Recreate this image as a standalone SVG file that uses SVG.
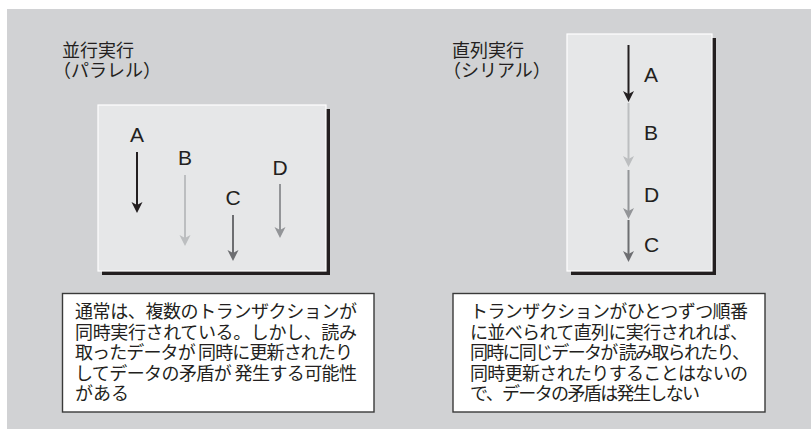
<svg xmlns="http://www.w3.org/2000/svg" width="811" height="429" viewBox="0 0 811 429">
<style>
.title{font-family:"Noto Sans CJK JP","Noto Sans",sans-serif;font-size:18px;font-weight:400;fill:#231f20}
.lbl{font-family:"Liberation Sans",Arial,sans-serif;font-size:21px;fill:#231f20}
.note{font-family:"Noto Sans CJK JP","Noto Sans",sans-serif;font-size:18px;font-weight:400;fill:#231f20}
.panel{fill:#e6e7e8;stroke:#ffffff;stroke-width:1.2}
.shadow{fill:#231f20}
.notebox{fill:#ffffff;stroke:#3a3a3a;stroke-width:1.4}
.arr{stroke-width:2;fill:none}
</style>
<defs>
<marker id="hA" markerUnits="userSpaceOnUse" markerWidth="12" markerHeight="12" viewBox="0 0 12 11" refX="5" refY="5.5" orient="auto"><path d="M0,0 L11,5.5 L0,11 L3,5.5 z" fill="#231f20"/></marker>
<marker id="hB" markerUnits="userSpaceOnUse" markerWidth="12" markerHeight="12" viewBox="0 0 12 11" refX="5" refY="5.5" orient="auto"><path d="M0,0 L11,5.5 L0,11 L3,5.5 z" fill="#bcbec0"/></marker>
<marker id="hC" markerUnits="userSpaceOnUse" markerWidth="12" markerHeight="12" viewBox="0 0 12 11" refX="5" refY="5.5" orient="auto"><path d="M0,0 L11,5.5 L0,11 L3,5.5 z" fill="#6d6e71"/></marker>
<marker id="hD" markerUnits="userSpaceOnUse" markerWidth="12" markerHeight="12" viewBox="0 0 12 11" refX="5" refY="5.5" orient="auto"><path d="M0,0 L11,5.5 L0,11 L3,5.5 z" fill="#939598"/></marker>
</defs>
<rect x="7" y="9" width="804" height="420" fill="#d1d2d4"/>

<g id="parallel">
<text class="title" x="62" y="57">並行実行</text>
<text class="title" x="53" y="77">（パラレル）</text>
<rect class="shadow" x="102" y="109" width="228" height="166"/>
<rect class="panel" x="98" y="105" width="228" height="166"/>
<text class="lbl" x="137" y="142" text-anchor="middle">A</text>
<text class="lbl" x="185" y="165" text-anchor="middle">B</text>
<text class="lbl" x="233" y="205" text-anchor="middle">C</text>
<text class="lbl" x="280" y="175" text-anchor="middle">D</text>
</g>

<g id="serial">
<text class="title" x="452" y="57">直列実行</text>
<text class="title" x="443" y="77">（シリアル）</text>
<rect class="shadow" x="571" y="38" width="145" height="237"/>
<rect class="panel" x="567" y="34" width="145" height="237"/>
<text class="lbl" x="644" y="82">A</text>
<text class="lbl" x="644" y="139.5">B</text>
<text class="lbl" x="644" y="201.5">D</text>
<text class="lbl" x="644" y="252">C</text>
</g>

<g id="connectors">
<line class="arr" x1="137" y1="152" x2="137" y2="207" stroke="#231f20" marker-end="url(#hA)"/>
<line class="arr" x1="185" y1="175" x2="185" y2="240" stroke="#bcbec0" marker-end="url(#hB)"/>
<line class="arr" x1="233" y1="215" x2="233" y2="255" stroke="#6d6e71" marker-end="url(#hC)"/>
<line class="arr" x1="280" y1="184" x2="280" y2="232" stroke="#939598" marker-end="url(#hD)"/>
<line class="arr" x1="628.5" y1="45" x2="628.5" y2="96" stroke="#231f20" marker-end="url(#hA)"/>
<line class="arr" x1="628.5" y1="103" x2="628.5" y2="161" stroke="#bcbec0" marker-end="url(#hB)"/>
<line class="arr" x1="628.5" y1="170" x2="628.5" y2="213" stroke="#939598" marker-end="url(#hD)"/>
<line class="arr" x1="628.5" y1="220" x2="628.5" y2="256" stroke="#6d6e71" marker-end="url(#hC)"/>
</g>

<g id="note-parallel">
<rect class="notebox" x="62.5" y="293.5" width="311.5" height="118.5"/>
<text class="note" x="75" y="318" textLength="282" lengthAdjust="spacing">通常は、複数のトランザクションが</text>
<text class="note" x="75" y="338.5" textLength="282" lengthAdjust="spacing">同時実行されている。しかし、読み</text>
<text class="note" x="75" y="359" textLength="278" lengthAdjust="spacing">取ったデータが 同時に更新されたり</text>
<text class="note" x="75" y="379.5" textLength="282" lengthAdjust="spacing">してデータの矛盾が 発生する可能性</text>
<text class="note" x="75" y="400">がある</text>
</g>

<g id="note-serial">
<rect class="notebox" x="453" y="293.5" width="312" height="118.5"/>
<text class="note" x="470" y="318" textLength="278" lengthAdjust="spacing">トランザクションがひとつずつ順番</text>
<text class="note" x="470" y="338.5" textLength="278" lengthAdjust="spacing">に並べられて直列に実行されれば、</text>
<text class="note" x="470" y="359" textLength="280" lengthAdjust="spacing">同時に同じデータが 読み取られたり、</text>
<text class="note" x="470" y="379.5" textLength="278" lengthAdjust="spacing">同時更新されたりすることはないの</text>
<text class="note" x="470" y="400" textLength="230" lengthAdjust="spacing">で、データの矛盾は発生しない</text>
</g>
</svg>
